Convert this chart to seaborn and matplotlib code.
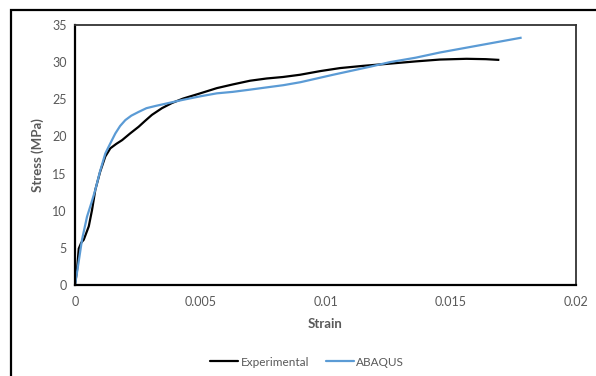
import numpy as np
import pandas as pd
import matplotlib
matplotlib.use("Agg")
import matplotlib.pyplot as plt
from matplotlib.patches import Rectangle
from matplotlib.ticker import MultipleLocator
from matplotlib.lines import Line2D
import seaborn as sns

# Experimental curve
exp_strain = [0.0, 0.00008, 0.00015, 0.00025, 0.00035, 0.00055, 0.00068, 0.00081,
              0.00100, 0.00121, 0.00141, 0.00165, 0.00188, 0.00220, 0.00254, 0.00280,
              0.00307, 0.00347, 0.00387, 0.00432, 0.00500, 0.00566, 0.00630, 0.00699,
              0.00765, 0.00830, 0.00898, 0.00980, 0.01058, 0.01150, 0.01257, 0.01360,
              0.01457, 0.01563, 0.01640, 0.01694]
exp_stress = [0.0, 2.0, 4.9, 5.7, 6.1, 7.9, 10.1, 12.8,
              15.2, 17.3, 18.4, 19.0, 19.5, 20.4, 21.3, 22.1,
              22.9, 23.8, 24.5, 25.1, 25.8, 26.5, 27.0, 27.5,
              27.8, 28.0, 28.3, 28.8, 29.2, 29.5, 29.8, 30.1,
              30.35, 30.45, 30.4, 30.3]

# ABAQUS curve
abq_strain = [0.0, 0.00010, 0.00028, 0.00048, 0.00065, 0.00081, 0.00100, 0.00121,
              0.00140, 0.00161, 0.00180, 0.00201, 0.00225, 0.00254, 0.00285, 0.00321,
              0.00374, 0.00427, 0.00500, 0.00566, 0.00630, 0.00699, 0.00765, 0.00832,
              0.00900, 0.00965, 0.01030, 0.01098, 0.01180, 0.01257, 0.01360, 0.01457,
              0.01620, 0.01783]
abq_stress = [0.0, 2.1, 6.1, 9.2, 11.0, 12.8, 15.3, 17.7,
              19.0, 20.4, 21.4, 22.2, 22.8, 23.3, 23.8, 24.1,
              24.5, 24.9, 25.4, 25.8, 26.0, 26.3, 26.6, 26.9,
              27.3, 27.8, 28.3, 28.8, 29.4, 30.0, 30.6, 31.3,
              32.3, 33.3]

series_names = ["Experimental", "ABAQUS"]

df = pd.concat([
    pd.DataFrame({"Strain": exp_strain, "Stress": exp_stress, "Series": series_names[0]}),
    pd.DataFrame({"Strain": abq_strain, "Stress": abq_stress, "Series": series_names[1]}),
])

sns.set_style("white")
plt.rcParams["font.family"] = ["Lato", "DejaVu Sans"]

fig = plt.figure(figsize=(5.96, 3.76), dpi=100)
ax = fig.add_axes([75/596, 1-285/376, (576-75)/596, (285-25)/376])

sns.lineplot(data=df, x="Strain", y="Stress", hue="Series", sort=False,
             palette={"Experimental": "#000000", "ABAQUS": "#5B9BD5"},
             linewidth=1.6, ax=ax, legend=False)
for ln in ax.lines:
    ln.set_solid_joinstyle("round")
    ln.set_solid_capstyle("butt")

ax.set_xlim(0, 0.02)
ax.set_ylim(0, 35)
ax.xaxis.set_minor_locator(MultipleLocator(0.0025))
ax.yaxis.set_major_locator(MultipleLocator(5))
ax.yaxis.set_minor_locator(MultipleLocator(2.5))
ax.set_xticks([0, 0.005, 0.01, 0.015, 0.02])
ax.set_xticklabels(["0", "0.005", "0.01", "0.015", "0.02"])
ax.tick_params(which="both", direction="in", length=3, width=1, color="black",
               labelcolor="#595959", labelsize=9)
ax.tick_params(axis="x", pad=8)
ax.tick_params(axis="y", pad=6)

for s in ["left", "bottom"]:
    ax.spines[s].set_linewidth(1.6)
    ax.spines[s].set_color("black")
for s in ["top", "right"]:
    ax.spines[s].set_linewidth(1.3)
    ax.spines[s].set_color("#333333")

ax.set_xlabel("Strain", fontweight="bold", color="#595959", fontsize=9.5, labelpad=7)
ax.set_ylabel("Stress (MPa)", fontweight="bold", color="#595959", fontsize=9.5, labelpad=6)

handles = [Line2D([], [], color="#000000", lw=1.6), Line2D([], [], color="#5B9BD5", lw=1.6)]
leg = fig.legend(handles, series_names, loc="center", bbox_to_anchor=(0.515, 1-362/376),
                 ncol=2, frameon=False, fontsize=8.5, handlelength=2.4, handletextpad=0.2,
                 columnspacing=1.4)
for t in leg.get_texts():
    t.set_color("#595959")

# Outer chart frame
fig.patches.append(Rectangle((11/596, -0.1), 1.2, 1-10/376+0.1, transform=fig.transFigure,
                             fill=False, edgecolor="black", linewidth=1.6))

fig.savefig("out.png", dpi=100)
